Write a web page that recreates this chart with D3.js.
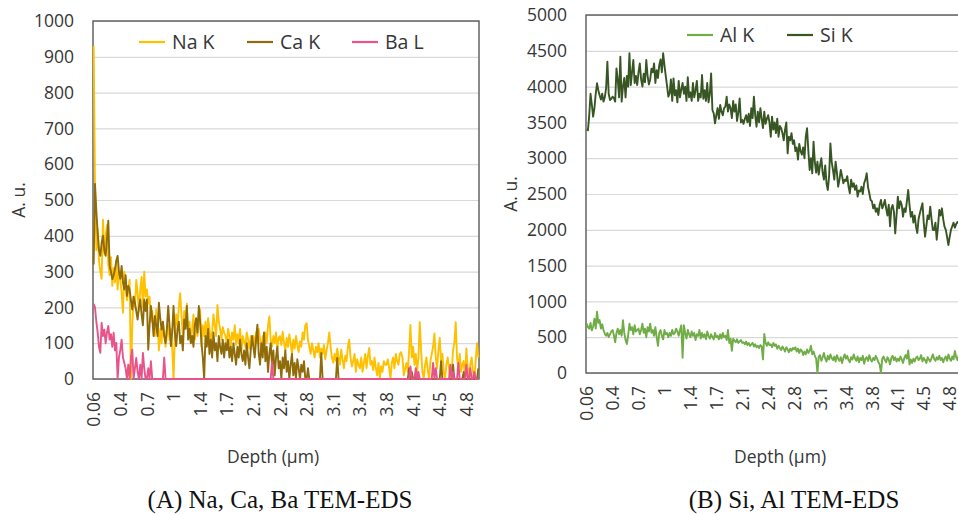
<!DOCTYPE html>
<html>
<head>
<meta charset="utf-8">
<script src="https://cdn.jsdelivr.net/npm/d3@7"></script>
<style>
  body { margin: 0; background: #fff; }
  svg { display: block; }
  text { font-family: "Open Sans", sans-serif; }
</style>
</head>
<body>
<svg id="fig" width="958" height="515"></svg>
<script>
// depth labels shown on the category axis (one every 20 points)
const depthLabels = ["0.06", "0.4", "0.7", "1", "1.4", "1.7", "2.1", "2.4", "2.8", "3.1", "3.4", "3.8", "4.1", "4.5", "4.8"];
const labelStep = 20;
const ticksA = [0, 100, 200, 300, 400, 500, 600, 700, 800, 900, 1000];
const ticksB = [0, 500, 1000, 1500, 2000, 2500, 3000, 3500, 4000, 4500, 5000];

const naK = [
  930, 540, 360, 420, 330, 300, 280, 445, 350, 400, 430, 320, 290, 340, 260, 310, 270, 330, 250, 300,
  280, 240, 185, 300, 260, 220, 250, 277, 0, 150, 230, 200, 277, 240, 190, 250, 285, 200, 300, 230,
  250, 210, 230, 160, 190, 145, 120, 195, 170, 80, 140, 100, 160, 130, 90, 120, 150, 110, 140, 90,
  0, 120, 180, 150, 200, 240, 175, 120, 190, 150, 210, 130, 160, 100, 140, 180, 110, 150, 120, 170,
  195, 90, 150, 120, 160, 110, 170, 140, 100, 130, 180, 150, 120, 207, 160, 140, 110, 145, 130, 120,
  100, 140, 120, 90, 130, 110, 150, 95, 125, 100, 140, 80, 120, 105, 90, 130, 110, 85, 120, 100,
  120, 90, 130, 100, 140, 110, 80, 120, 95, 130, 100, 150, 175, 110, 90, 120, 100, 130, 85, 115,
  120, 95, 132, 100, 80, 115, 90, 125, 100, 70, 110, 85, 120, 95, 75, 105, 90, 130, 110, 150,
  156, 110, 90, 70, 100, 80, 60, 90, 75, 100, 60, 85, 70, 95, 55, 80, 100, 130, 90, 60,
  45, 70, 50, 85, 60, 40, 82, 55, 30, 65, 50, 90, 110, 60, 35, 50, 70, 20, 55, 40,
  30, 60, 20, 45, 70, 30, 64, 87, 40, 50, 25, 60, 30, 10, 45, 0, 35, 20, 50, 40,
  40, 55, 30, 0, 45, 60, 30, 70, 50, 40, 70, 75, 60, 10, 30, 45, 20, 80, 151, 60,
  90, 40, 70, 20, 60, 159, 80, 20, 0, 40, 60, 25, 0, 50, 70, 90, 127, 60, 30, 80,
  115, 50, 70, 20, 0, 40, 60, 30, 0, 20, 80, 100, 159, 60, 30, 70, 20, 40, 50, 0,
  85, 30, 10, 40, 60, 20, 0, 50, 100, 60
];

const caK = [
  320, 545, 470, 409, 360, 344, 380, 400, 360, 344, 390, 442, 316, 300, 279, 290, 307, 330, 344, 300,
  280, 316, 270, 250, 290, 232, 260, 250, 220, 194, 230, 213, 190, 166, 200, 222, 180, 150, 222, 190,
  222, 82, 150, 204, 170, 120, 176, 150, 120, 213, 170, 138, 160, 120, 100, 140, 204, 150, 92, 130,
  204, 130, 92, 140, 160, 100, 120, 80, 166, 140, 204, 110, 140, 100, 120, 90, 150, 170, 130, 204,
  160, 100, 60, 0, 120, 90, 140, 70, 110, 60, 130, 80, 100, 50, 120, 90, 70, 110, 60, 100,
  80, 110, 60, 90, 50, 100, 70, 40, 90, 60, 110, 70, 50, 80, 40, 100, 60, 30, 80, 120,
  90, 60, 110, 152, 70, 40, 100, 60, 130, 50, 90, 20, 70, 100, 40, 80, 10, 60, 90, 30,
  50, 0, 60, 30, 80, 20, 50, 0, 40, 70, 10, 45, 0, 55, 30, 0, 40, 20, 50, 0,
  0, 30, 0, 0, 0, 0, 0, 0, 0, 0, 0, 73, 0, 0, 0, 0, 0, 0, 0, 0,
  0, 0, 0, 59, 0, 0, 0, 0, 0, 0, 0, 0, 0, 0, 0, 0, 0, 0, 0, 0,
  0, 0, 0, 0, 0, 0, 0, 0, 0, 0, 0, 0, 0, 0, 0, 0, 0, 0, 0, 0,
  0, 0, 0, 0, 0, 0, 0, 0, 0, 0, 0, 0, 0, 0, 0, 0, 0, 30, 0, 20,
  0, 0, 15, 0, 0, 0, 0, 0, 0, 0, 0, 0, 0, 0, 0, 0, 0, 0, 0, 0,
  0, 50, 0, 0, 0, 0, 0, 0, 0, 0, 40, 0, 0, 0, 0, 0, 0, 0, 20, 0,
  0, 0, 0, 0, 0, 0, 0, 0, 0, 30
];

const baL = [
  210, 200, 160, 130, 90, 73, 157, 120, 138, 100, 130, 148, 110, 125, 90, 129, 80, 101, 0, 60,
  80, 110, 60, 45, 30, 0, 40, 0, 60, 82, 0, 30, 59, 20, 0, 40, 0, 73, 30, 0,
  0, 30, 0, 50, 0, 0, 0, 0, 0, 0, 0, 0, 0, 60, 0, 0, 0, 0, 0, 0,
  0, 0, 0, 0, 0, 0, 0, 0, 0, 0, 0, 0, 0, 0, 0, 0, 0, 0, 0, 0,
  0, 0, 0, 0, 0, 0, 0, 0, 0, 0, 0, 0, 0, 0, 0, 0, 0, 0, 0, 0,
  0, 0, 0, 0, 0, 0, 0, 0, 0, 0, 0, 0, 0, 0, 0, 0, 0, 0, 0, 0,
  0, 0, 0, 0, 0, 0, 0, 0, 0, 0, 0, 0, 0, 0, 48, 0, 0, 0, 0, 0,
  0, 0, 0, 0, 0, 0, 0, 0, 0, 0, 0, 0, 0, 0, 0, 0, 0, 0, 0, 0,
  0, 0, 0, 0, 0, 0, 0, 0, 0, 0, 0, 0, 0, 0, 0, 0, 0, 0, 0, 0,
  0, 0, 0, 0, 0, 0, 0, 0, 0, 0, 0, 0, 0, 0, 0, 0, 0, 0, 0, 0,
  0, 0, 0, 0, 0, 0, 0, 0, 0, 0, 0, 0, 0, 0, 0, 0, 0, 0, 0, 0,
  0, 0, 0, 0, 0, 0, 0, 0, 0, 0, 0, 0, 0, 0, 0, 0, 0, 0, 35, 0,
  0, 0, 30, 0, 20, 0, 0, 0, 0, 0, 0, 0, 0, 0, 0, 45, 0, 30, 0, 0,
  0, 0, 0, 0, 0, 0, 0, 0, 40, 0, 20, 0, 0, 0, 45, 0, 0, 0, 0, 0,
  40, 0, 0, 30, 0, 0, 20, 0, 0, 0
];

const alK = [
  690, 640, 619, 700, 595, 650, 758, 620, 857, 700, 740, 620, 680, 600, 549, 520, 560, 502, 540, 580,
  600, 530, 428, 560, 620, 540, 600, 520, 738, 560, 460, 405, 520, 690, 600, 640, 540, 666, 580, 600,
  620, 540, 600, 690, 560, 620, 500, 640, 580, 690, 560, 600, 520, 640, 500, 380, 560, 600, 520, 470,
  600, 540, 560, 500, 560, 520, 600, 540, 560, 620, 580, 520, 600, 666, 214, 666, 560, 480, 600, 540,
  500, 580, 520, 560, 460, 540, 520, 600, 480, 560, 500, 540, 470, 580, 520, 480, 540, 500, 470, 560,
  500, 520, 470, 540, 480, 560, 500, 520, 460, 600, 420, 480, 309, 480, 450, 430, 470, 420, 440, 460,
  420, 430, 400, 440, 390, 420, 380, 400, 420, 370, 400, 360, 380, 350, 390, 370, 190, 547, 420, 380,
  430, 390, 400, 360, 420, 380, 400, 340, 380, 350, 320, 370, 340, 300, 360, 330, 290, 340, 310, 350,
  330, 360, 300, 340, 280, 330, 310, 250, 300, 260, 330, 280, 310, 380, 260, 300, 240, 200, 0, 230,
  250, 170, 220, 280, 200, 160, 240, 190, 260, 210, 180, 230, 160, 250, 200, 170, 220, 140, 210, 260,
  200, 240, 180, 150, 220, 190, 260, 200, 170, 230, 150, 210, 180, 240, 130, 200, 220, 170, 250, 190,
  160, 210, 180, 240, 200, 150, 120, 0, 200, 230, 180, 150, 220, 190, 120, 210, 240, 180, 220, 160,
  200, 170, 230, 190, 140, 210, 250, 200, 316, 120, 190, 140, 200, 160, 210, 230, 180, 200, 250, 160,
  210, 180, 140, 220, 190, 160, 210, 260, 200, 170, 220, 190, 240, 180, 210, 150, 200, 230, 170, 260,
  200, 170, 230, 190, 309, 220, 180, 250, 200, 260
];

const siK = [
  3400, 3390, 3600, 3900, 3750, 3580, 3700, 3900, 4046, 3950, 3880, 3820, 3900, 3790, 3850, 3980, 4348, 3900, 3812, 3830,
  3860, 3840, 3790, 4255, 4100, 3850, 4418, 3790, 4000, 4120, 3850, 4150, 4000, 4465, 4020, 4200, 4371, 4050, 4150, 4022,
  4200, 4324, 4100, 4000, 4180, 4060, 4371, 4150, 4030, 4100, 4250, 4200, 4324, 4050, 4230, 4120, 4300, 4380, 4200, 4465,
  4300, 4150, 4010, 3860, 3906, 4100, 3800, 4115, 3880, 3950, 3780, 4080, 3850, 3960, 4050, 3900, 4000, 3800, 4130, 3850,
  3920, 3800, 4050, 3850, 3950, 4080, 3800, 3900, 3850, 4162, 3830, 3950, 3800, 4050, 3780, 3900, 4185, 3673, 3627, 3487,
  3600, 3700, 3550, 3743, 3650, 3600, 3700, 3720, 3860, 3650, 3750, 3700, 3560, 3800, 3650, 3750, 3520, 3640, 3836, 3500,
  3535, 3480, 3550, 3600, 3500, 3620, 3450, 3700, 3560, 3860, 3600, 3440, 3650, 3500, 3700, 3550, 3420, 3650, 3480, 3550,
  3600, 3500, 3300, 3580, 3400, 3500, 3350, 3550, 3300, 3450, 3423, 3350, 3250, 3400, 3500, 3068, 3300, 3250, 3350, 3200,
  3250, 3100, 3150, 2980, 3200, 3100, 3050, 3150, 3000, 3300, 3418, 3100, 2836, 3000, 2789, 3230, 2950, 2800, 2950, 2771,
  2900, 3000, 2800, 2700, 2900, 2650, 2556, 2750, 3207, 2950, 2835, 2700, 2951, 2800, 2602, 2700, 2835, 2750, 2650, 2700,
  2680, 2750, 2600, 2510, 2700, 2600, 2650, 2560, 2620, 2463, 2550, 2535, 2600, 2500, 2650, 2700, 2789, 2600, 2510, 2416,
  2400, 2300, 2350, 2250, 2300, 2207, 2350, 2416, 2300, 2346, 2416, 2300, 2200, 2350, 2050, 2300, 2346, 2250, 1950, 2200,
  2463, 2300, 2400, 2350, 2183, 2300, 2250, 2400, 2556, 2350, 2183, 2250, 2100, 2200, 2050, 1955, 2150, 2230, 2300, 2370,
  2100, 1904, 2050, 2200, 2150, 2323, 2150, 2000, 1997, 2100, 1862, 2050, 2276, 2200, 2300, 2150, 2043, 2000, 1900, 1788,
  1900, 2000, 2050, 2100, 2030, 2080, 2110, 2090, 2120, 2100
];

const svg = d3.select("#fig");
svg.append("rect").attr("width", 958).attr("height", 515).attr("fill", "#fff");

const textColor = "#363636";

function drawPanel(p) {
  const g = svg.append("g");
  const n = p.series[0].values.length;
  const w = p.right - p.left;

  const x = d3.scalePoint()
    .domain(d3.range(n))
    .range([p.left, p.right])
    .padding(0.5);

  const y = d3.scaleLinear()
    .domain([0, p.ticks[p.ticks.length - 1]])
    .range([p.bottom, p.top]);

  // gridlines
  g.append("g")
    .attr("transform", `translate(${p.left},0)`)
    .call(d3.axisLeft(y).tickValues(p.ticks).tickSize(-w).tickFormat(""))
    .call(a => a.select(".domain").remove())
    .selectAll("line")
    .attr("stroke", "#d9d9d9")
    .attr("stroke-width", 1.2);

  // plot border
  g.append("rect")
    .attr("x", p.left).attr("y", p.top)
    .attr("width", w).attr("height", p.bottom - p.top)
    .attr("fill", "none")
    .attr("stroke", "#595959")
    .attr("stroke-width", 1.4);

  // y labels
  g.append("g")
    .attr("transform", `translate(${p.left},0)`)
    .call(d3.axisLeft(y).tickValues(p.ticks).tickSize(0).tickPadding(19).tickFormat(d3.format("d")))
    .call(a => a.select(".domain").remove())
    .selectAll("text")
    .attr("fill", textColor)
    .style("font-size", "17.5px");

  // x labels, rotated
  const tickIdx = depthLabels.map((d, i) => i * labelStep);
  g.append("g")
    .attr("transform", `translate(0,${p.bottom})`)
    .call(d3.axisBottom(x).tickValues(tickIdx).tickSize(0).tickFormat(i => depthLabels[i / labelStep]))
    .call(a => a.select(".domain").remove())
    .selectAll("text")
    .attr("transform", "rotate(-90)")
    .attr("x", -13)
    .attr("y", 0)
    .attr("dy", "0.35em")
    .style("text-anchor", "end")
    .style("font-size", "17.5px")
    .attr("fill", textColor);

  // series lines
  const line = d3.line()
    .x((d, i) => x(i))
    .y(d => y(d));

  p.series.forEach(s => {
    g.append("path")
      .datum(s.values)
      .attr("fill", "none")
      .attr("stroke", s.color)
      .attr("stroke-width", 1.9)
      .attr("stroke-linejoin", "round")
      .attr("d", line);
  });

  // legend
  p.series.forEach((s, i) => {
    const lx = p.legendX[i];
    g.append("line")
      .attr("x1", lx).attr("x2", lx + 26)
      .attr("y1", p.legendY).attr("y2", p.legendY)
      .attr("stroke", s.color)
      .attr("stroke-width", 2.2);
    g.append("text")
      .attr("x", lx + 33)
      .attr("y", p.legendY)
      .attr("dy", "0.35em")
      .attr("fill", textColor)
      .style("font-size", "19.5px")
      .text(s.name);
  });

  // axis titles
  g.append("text")
    .attr("transform", `translate(${p.yTitleX},${(p.top + p.bottom) / 2}) rotate(-90)`)
    .attr("text-anchor", "middle")
    .attr("dy", "0.35em")
    .attr("fill", textColor)
    .style("font-size", "17.5px")
    .text("A. u.");

  g.append("text")
    .attr("x", p.xTitleX)
    .attr("y", 457)
    .attr("text-anchor", "middle")
    .attr("dy", "0.35em")
    .attr("fill", textColor)
    .style("font-size", "17.5px")
    .text("Depth (μm)");

  // caption
  g.append("text")
    .attr("x", p.captionX)
    .attr("y", 508)
    .attr("text-anchor", "middle")
    .attr("fill", "#111")
    .style("font-family", "'Liberation Serif', 'Times New Roman', serif")
    .style("font-size", "25px")
    .text(p.caption);
}

drawPanel({
  left: 93, right: 479, top: 21, bottom: 379,
  ticks: ticksA,
  series: [
    { name: "Na K", values: naK, color: "#ffc000" },
    { name: "Ca K", values: caK, color: "#8f6b0a" },
    { name: "Ba L", values: baL, color: "#e8538b" }
  ],
  legendX: [139, 247, 352], legendY: 42,
  yTitleX: 19, xTitleX: 273, captionX: 280,
  caption: "(A) Na, Ca, Ba TEM-EDS"
});

drawPanel({
  left: 586, right: 962, top: 15, bottom: 373,
  ticks: ticksB,
  series: [
    { name: "Al K", values: alK, color: "#70ad47" },
    { name: "Si K", values: siK, color: "#375623" }
  ],
  legendX: [687, 787], legendY: 35,
  yTitleX: 511, xTitleX: 780, captionX: 794,
  caption: "(B) Si, Al TEM-EDS"
});
</script>
</body>
</html>
